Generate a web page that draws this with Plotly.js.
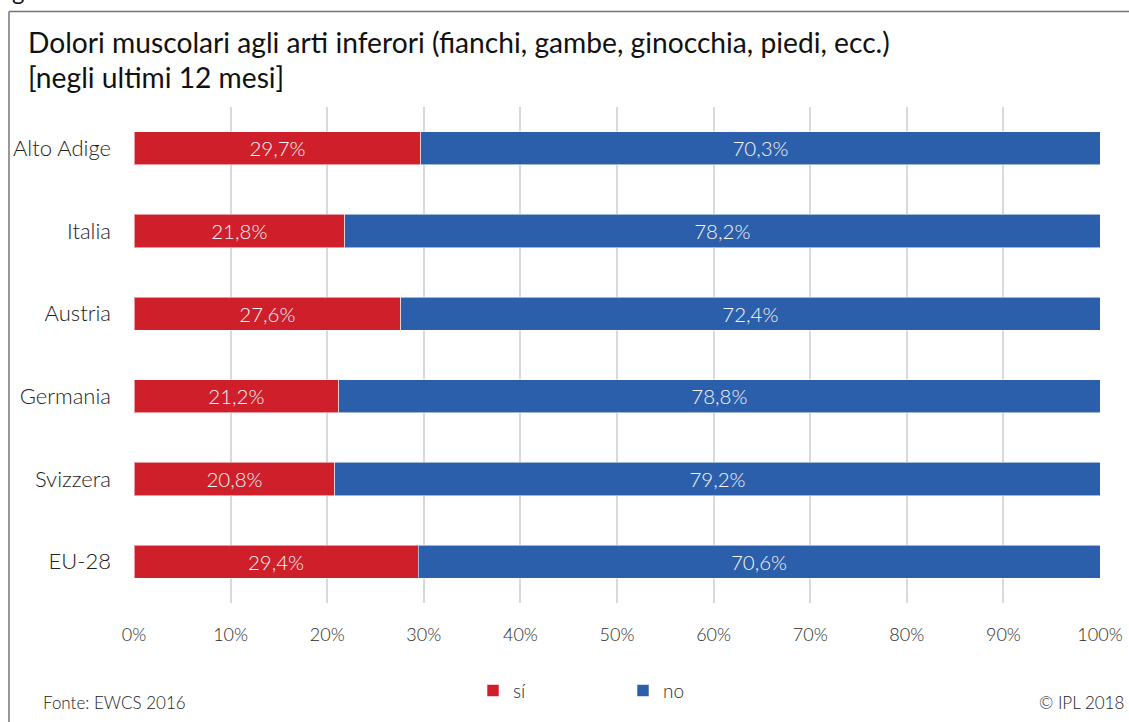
<!DOCTYPE html>
<html>
<head>
<meta charset="utf-8">
<script src="https://cdn.plot.ly/plotly-3.0.1.min.js"></script>
<style>html,body{margin:0;padding:0;background:#fff;}#chart{width:1129px;height:722px;}</style>
</head>
<body>
<div id="chart"></div>
<script>
const categories = ['Alto Adige', 'Italia', 'Austria', 'Germania', 'Svizzera', 'EU-28'];
const siValues = [29.7, 21.8, 27.6, 21.2, 20.8, 29.4];
const noValues = [70.3, 78.2, 72.4, 78.8, 79.2, 70.6];
const seriesNames = ['sí', 'no'];
const titleLines = ['Dolori muscolari agli arti inferori (fianchi, gambe, ginocchia, piedi, ecc.)', '[negli ultimi 12 mesi]'];
const sourceText = 'Fonte: EWCS 2016';
const copyrightText = '© IPL 2018';

const FONT = 'Lato, "Noto Sans", sans-serif';
const W = 966, H = 498, L = 134, T = 107;
const px = v => (v - L) / W;
const py = v => 1 - (v - T) / H;

function barTrace(name, vals, color) {
  return {
    type: 'bar', orientation: 'h', name: name,
    x: vals, y: categories,
    marker: {color: color, line: {color: 'rgba(255,255,255,0.55)', width: 1}},
    texttemplate: '%{x:.1f}%', textposition: 'inside', insidetextanchor: 'middle',
    textfont: {family: FONT, size: 20.5, color: '#f6f6f6', weight: 300},
    hoverinfo: 'skip'
  };
}

const data = [
  barTrace(seriesNames[0], siValues, '#CE1F2A'),
  barTrace(seriesNames[1], noValues, '#2B5EAB')
];

const layout = {
  width: 1129, height: 722,
  margin: {l: 134, r: 29, t: 107, b: 117, pad: 0},
  paper_bgcolor: '#fff', plot_bgcolor: '#fff',
  separators: ',.',
  barmode: 'stack', bargap: 0.6,
  font: {family: FONT, color: '#2a2a2a'},
  xaxis: {
    range: [0, 100], dtick: 10, ticksuffix: '%',
    showgrid: true, gridcolor: '#d9d9d9', gridwidth: 2,
    zeroline: false, showline: false,
    tickfont: {family: FONT, size: 18, color: '#2a2a2a', weight: 300},
    ticks: '', ticklabelstandoff: 19, fixedrange: true
  },
  yaxis: {
    autorange: 'reversed', showgrid: false, zeroline: false, showline: false,
    tickfont: {family: FONT, size: 22, color: '#222', weight: 300},
    ticks: '', ticklabelstandoff: 22, fixedrange: true
  },
  showlegend: true,
  legend: {
    orientation: 'h', x: px(473), xanchor: 'left', y: py(693), yanchor: 'middle',
    font: {family: FONT, size: 19, color: '#2a2a2a', weight: 300},
    entrywidth: 105, itemwidth: 30, traceorder: 'normal'
  },
  shapes: [
    {type: 'line', xref: 'paper', yref: 'paper', x0: px(9), x1: px(1135), y0: py(11), y1: py(11), line: {color: '#74747c', width: 1.5}},
    {type: 'line', xref: 'paper', yref: 'paper', x0: px(9), x1: px(9), y0: py(11), y1: py(730), line: {color: '#74747c', width: 1.5}}
  ],
  annotations: [
    {text: titleLines[0], xref: 'paper', yref: 'paper', x: px(26), y: py(42), xanchor: 'left', yanchor: 'middle', showarrow: false, font: {family: FONT, size: 28.2, color: '#111'}},
    {text: titleLines[1], xref: 'paper', yref: 'paper', x: px(26), y: py(77), xanchor: 'left', yanchor: 'middle', showarrow: false, font: {family: FONT, size: 28.2, color: '#111'}},
    {text: sourceText, xref: 'paper', yref: 'paper', x: px(41), y: py(705), xanchor: 'left', yanchor: 'middle', showarrow: false, font: {family: FONT, size: 17, color: '#222', weight: 300}},
    {text: copyrightText, xref: 'paper', yref: 'paper', x: px(1126), y: py(705), xanchor: 'right', yanchor: 'middle', showarrow: false, font: {family: FONT, size: 17, color: '#222', weight: 300}},
    {text: 'g', xref: 'paper', yref: 'paper', x: px(10), y: py(7), xanchor: 'left', yanchor: 'bottom', showarrow: false, font: {family: FONT, size: 24, color: '#111'}}
  ]
};

Plotly.newPlot('chart', data, layout, {displayModeBar: false, staticPlot: true});
</script>
</body>
</html>
